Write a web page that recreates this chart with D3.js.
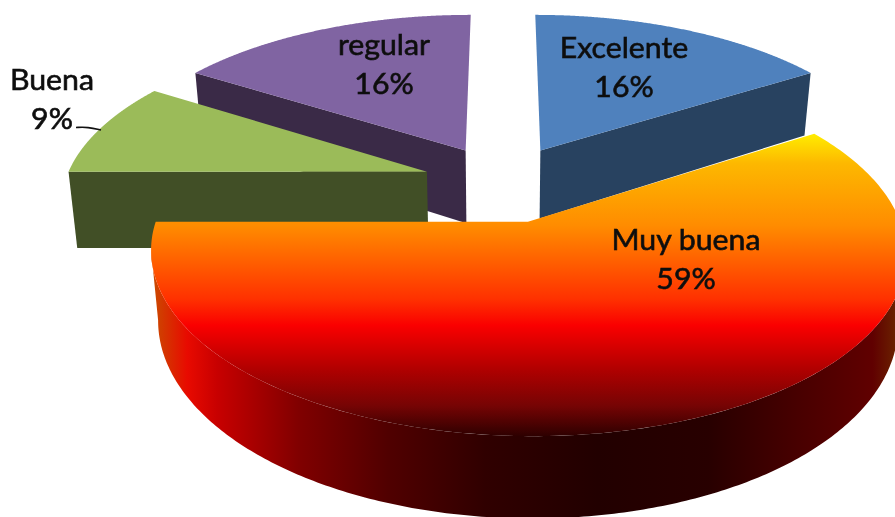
<!DOCTYPE html>
<html><head><meta charset="utf-8">
<script src="https://cdn.jsdelivr.net/npm/d3@7/dist/d3.min.js"></script>
<style>html,body{margin:0;padding:0;background:#fff;overflow:hidden}svg{display:block}</style>
</head><body><svg id="c" width="895" height="517"></svg>
<script>
const categories = ["Excelente","Muy buena","Buena","regular"];
const values = [16,59,9,16];
const topColors = ["#4f81bd",null,"#9bbb59","#8064a2"];
const sideColors = ["#284260",null,"#414f26","#3a2a47"];
const explode = [80,86,80,80];
const radiusScale = [1,0.99,1,1];
const depths = [70,66,77,75];
const labelPos = [[624,58],[686,250],[52,90],[384,55]];
const drawOrder = [3,0,2,1];

const cx=503, cy=182, R=362, persp=0.00045, tilt=0.462, shrink=0.98;
const svg=d3.select("#c");
const defs=svg.append("defs");
const total=d3.sum(values);
const arcs=d3.pie().sort(null).startAngle(0).endAngle(2*Math.PI)(values);

function project(X,Z,h){
  const w=1/(1-persp*Z);
  return [cx+X*w*(h?shrink:1), cy+Z*tilt*w+h*w];
}
function geom(i){
  const a=arcs[i], mid=(a.startAngle+a.endAngle)/2, r=R*radiusScale[i];
  const ox=explode[i]*Math.sin(mid), oz=-explode[i]*Math.cos(mid);
  const rim=(h,s=a.startAngle,e=a.endAngle)=>d3.range(0,241).map(k=>{
    const t=s+(e-s)*k/240;
    return project(ox+r*Math.sin(t),oz-r*Math.cos(t),h);
  });
  return {a,rim,apex:project(ox,oz,0),apexLow:project(ox,oz,depths[i])};
}
const line=d3.line();

const topGrad=defs.append("linearGradient").attr("id","topG").attr("gradientUnits","userSpaceOnUse")
  .attr("x1",0).attr("x2",0).attr("y1",133).attr("y2",436);
[[0,"#ffee00"],[.1,"#fdb800"],[.305,"#ff8c00"],[.55,"#ff3000"],[.635,"#fa0000"],[.78,"#b00000"],[.9,"#760404"],[1,"#2e0000"]]
  .forEach(s=>topGrad.append("stop").attr("offset",s[0]).attr("stop-color",s[1]));
const wallGrad=defs.append("linearGradient").attr("id","wallG").attr("gradientUnits","userSpaceOnUse")
  .attr("x1",150).attr("x2",895).attr("y1",0).attr("y2",0);
[[0,"#c85000"],[.05,"#e80a00"],[.09,"#c80000"],[.2,"#800000"],[.32,"#500000"],[.45,"#300000"],[.6,"#220000"],[.75,"#280000"],[.87,"#480000"],[.97,"#600000"],[1,"#6a2000"]]
  .forEach(s=>wallGrad.append("stop").attr("offset",s[0]).attr("stop-color",s[1]));
const soft=defs.append("filter").attr("id","soft").attr("x","-5%").attr("y","-20%").attr("width","110%").attr("height","140%");
soft.append("feGaussianBlur").attr("stdDeviation",0.45);

drawOrder.forEach(i=>{
  const g=geom(i), gp=svg.append("g").attr("class","slice");
  if(topColors[i]){
    const ang=i===0?g.a.endAngle:g.a.startAngle;
    const t=g.rim(0,ang,ang)[0], b=g.rim(depths[i],ang,ang)[0];
    gp.append("path").attr("d",line([g.apex,t,b,g.apexLow])+"Z").attr("fill",sideColors[i]);
    gp.append("path").attr("d",line([g.apex,...g.rim(0)])+"Z").attr("fill",topColors[i]);
  } else {
    const r0=g.rim(0), xs=r0.map(p=>p[0]);
    const step=(g.a.endAngle-g.a.startAngle)/240;
    const s=g.a.startAngle+step*d3.maxIndex(xs), e=g.a.startAngle+step*d3.minIndex(xs);
    gp.append("path").attr("d",line([...g.rim(0,s,e),...g.rim(depths[i],s,e).reverse()])+"Z").attr("fill","url(#wallG)");
    gp.append("path").attr("d",line([g.apex,...r0])+"Z").attr("fill","url(#topG)");
  }
});

const leader=[[76,127.5],[88,127],[101,130]];
svg.append("path").attr("d",d3.line().curve(d3.curveBasis)(leader)).attr("fill","none").attr("stroke","#111").attr("stroke-width",1.6);

const labels=svg.append("g").attr("font-family","Lato, sans-serif").attr("font-size",28).attr("fill","#111")
  .attr("text-anchor","middle").attr("stroke","#111").attr("stroke-width",0.6).attr("filter","url(#soft)");
const tf=(x,y)=>`translate(${x},${y}) scale(1.08,1)`;
categories.forEach((c,i)=>{
  const [x,y]=labelPos[i];
  labels.append("text").attr("transform",tf(x,y)).text(c);
  labels.append("text").attr("transform",tf(x,y+39)).text(Math.round(values[i]/total*100)+"%");
});
</script></body></html>
